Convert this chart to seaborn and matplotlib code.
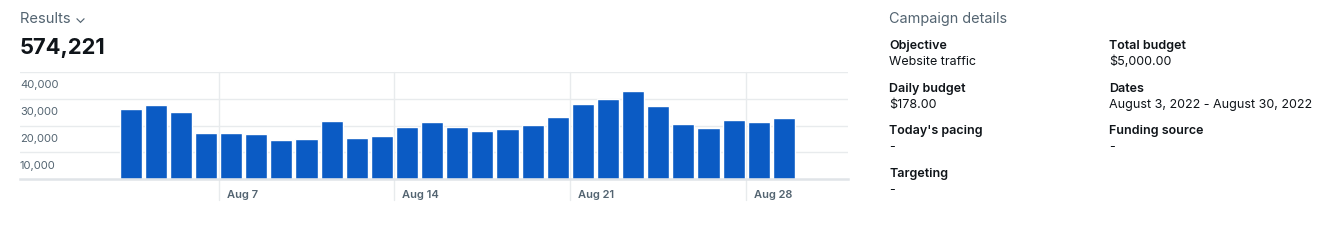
import matplotlib
matplotlib.use("Agg")
import matplotlib.pyplot as plt
import seaborn as sns
import pandas as pd

# ---- data ----
dates = ["Aug 3", "Aug 4", "Aug 5", "Aug 6", "Aug 7", "Aug 8", "Aug 9", "Aug 10",
         "Aug 11", "Aug 12", "Aug 13", "Aug 14", "Aug 15", "Aug 16", "Aug 17",
         "Aug 18", "Aug 19", "Aug 20", "Aug 21", "Aug 22", "Aug 23", "Aug 24",
         "Aug 25", "Aug 26", "Aug 27", "Aug 28", "Aug 29"]
results = [26100, 27500, 25100, 17200, 17200, 16950, 14600, 14950, 21550,
           15250, 16100, 19300, 21200, 19450, 17850, 18700, 20050, 23150,
           28100, 29950, 32800, 27350, 20650, 19150, 22150, 21400, 22750]
y_ticks = [10000, 20000, 30000, 40000]
x_ticks = ["Aug 7", "Aug 14", "Aug 21", "Aug 28"]
total_label = "574,221"
details = [
    ("Objective", "Website traffic"), ("Total budget", "$5,000.00"),
    ("Daily budget", "$178.00"), ("Dates", "August 3, 2022 - August 30, 2022"),
    ("Today's pacing", "-"), ("Funding source", "-"),
    ("Targeting", "-"),
]

df = pd.DataFrame({"date": dates, "results": results})

sns.set_theme(style="white")
plt.rcParams["font.family"] = ["Inter", "DejaVu Sans"]

W, H = 1337, 241
fig = plt.figure(figsize=(W / 100, H / 100), dpi=100)

# axes placement in pixels
ax_l, ax_r, ax_t, ax_b = 20, 848, 71.7, 179.3
ax = fig.add_axes([ax_l / W, 1 - ax_b / H, (ax_r - ax_l) / W, (ax_b - ax_t) / H])

BLUE = "#0B5BC4"
GRAY_TXT = "#536471"
DARK = "#0F1419"
GRID = "#E8EBED"

sns.barplot(data=df, x="date", y="results", color=BLUE, width=0.88,
            saturation=1, ax=ax, zorder=3)

ax.set_xlim(-4.4, 28.55)
ax.set_ylim(0, 40000)
for s in ["top", "right", "left"]:
    ax.spines[s].set_visible(False)
ax.spines["bottom"].set_color("#E0E4E8")
ax.spines["bottom"].set_linewidth(1.8)
ax.spines["bottom"].set_zorder(4)
ax.set_xlabel("")
ax.set_ylabel("")
ax.set_xticks([])
ax.set_yticks([])

# horizontal grid lines and labels (labels sit below their line)
for v in y_ticks:
    ax.axhline(v, color=GRID, lw=1, zorder=1)
    ax.annotate(f"{v:,}", xy=(0, v), xycoords=("axes fraction", "data"),
                xytext=(0, -8.5), textcoords="offset pixels", va="top", ha="left",
                fontsize=8.0, color=GRAY_TXT)

# vertical grid lines for week starts + labels
for lab in x_ticks:
    pos = dates.index(lab) - 0.5
    ax.axvline(pos, ymin=-0.193, ymax=1, color=GRID, lw=1, zorder=1, clip_on=False)
    ax.annotate(lab, xy=(pos, 0), xycoords=("data", "axes fraction"),
                xytext=(8, -15.5), textcoords="offset pixels", va="center", ha="left",
                fontsize=8.0, color=GRAY_TXT, fontweight="semibold")

def px(x, y):
    return x / W, 1 - y / H

fig.text(*px(20, 18.5), "Results \u2304", fontsize=10.6, color=GRAY_TXT, va="center", ha="left")
fig.text(*px(20, 48.5), total_label, fontsize=15.8, color=DARK, va="center", ha="left",
         fontweight="bold")

fig.text(*px(889, 18.5), "Campaign details", fontsize=10.4, color=GRAY_TXT, va="center", ha="left")

cols = [889, 1109]
rows = [46, 89, 131, 174]
for i, (k, v) in enumerate(details):
    x = cols[i % 2]
    y = rows[i // 2]
    fig.text(*px(x, y), k, fontsize=9.0, color=DARK, va="center", ha="left",
             fontweight="semibold")
    fig.text(*px(x, y + 16), v, fontsize=9.0, color=DARK, va="center", ha="left")

fig.savefig("out.png", dpi=100, facecolor="white")
